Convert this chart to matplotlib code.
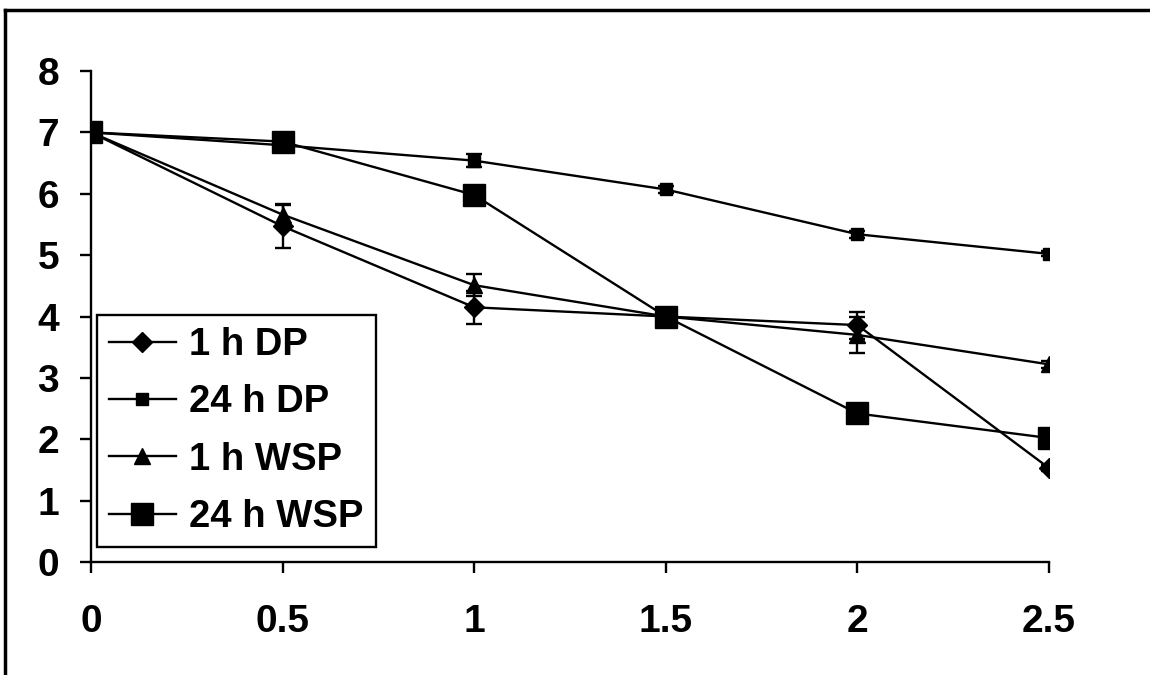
import matplotlib.pyplot as plt
from matplotlib.lines import Line2D

plt.rcParams['font.family'] = ['Liberation Sans', 'DejaVu Sans']
plt.rcParams['font.weight'] = 'bold'

# time points and log counts per treatment
time = [0, 0.5, 1, 1.5, 2, 2.5]

dp_1h = [7.0, 5.47, 4.15, 4.0, 3.86, 1.53]
dp_1h_err = [0, 0.35, 0.27, 0, 0.22, 0.05]

dp_24h = [7.0, 6.79, 6.54, 6.07, 5.34, 5.02]
dp_24h_err = [0, 0.07, 0.11, 0.05, 0.06, 0.04]

wsp_1h = [7.0, 5.66, 4.51, 4.0, 3.70, 3.22]
wsp_1h_err = [0, 0.17, 0.18, 0, 0.30, 0.06]

wsp_24h = [7.0, 6.85, 5.98, 4.0, 2.42, 2.02]

labels = ['1 h DP', '24 h DP', '1 h WSP', '24 h WSP']

fig = plt.figure(figsize=(11.5, 6.75), dpi=100)
ax = fig.add_axes([0.0791, 0.1674, 0.9122 - 0.0791, 0.8948 - 0.1674])

common = dict(color='black', lw=1.7, capsize=6, elinewidth=1.7, capthick=1.7)
ax.errorbar(time, dp_1h, yerr=dp_1h_err, marker='D', ms=10, label=labels[0], **common)
ax.errorbar(time, dp_24h, yerr=dp_24h_err, marker='s', ms=9, label=labels[1], **common)
ax.errorbar(time, wsp_1h, yerr=wsp_1h_err, marker='^', ms=11, label=labels[2], **common)
ax.plot(time, wsp_24h, color='black', lw=1.7, marker='s', ms=16, label=labels[3])

ax.set_xlim(0, 2.5)
ax.set_ylim(0, 8)
ax.set_xticks(time)
ax.set_xticklabels(['0', '0.5', '1', '1.5', '2', '2.5'])
ax.set_yticks(range(0, 9))

for side in ['top', 'right']:
    ax.spines[side].set_visible(False)
for side in ['left', 'bottom']:
    ax.spines[side].set_linewidth(1.7)
ax.tick_params(axis='both', direction='out', length=8, width=1.7, labelsize=28)
ax.tick_params(axis='x', pad=22)
ax.tick_params(axis='y', pad=15)
for lbl in ax.get_xticklabels() + ax.get_yticklabels():
    lbl.set_fontweight('bold')

# legend handles without error bar glyphs
handles = [
    Line2D([], [], color='black', lw=1.7, marker='D', ms=10),
    Line2D([], [], color='black', lw=1.7, marker='s', ms=9),
    Line2D([], [], color='black', lw=1.7, marker='^', ms=11),
    Line2D([], [], color='black', lw=1.7, marker='s', ms=16),
]
leg = ax.legend(handles, labels, loc='lower left', bbox_to_anchor=(0.006, 0.03),
                frameon=True, fancybox=False, edgecolor='black',
                handlelength=1.75, handletextpad=0.35, labelspacing=0.56,
                borderpad=0.32, borderaxespad=0,
                prop={'weight': 'bold', 'size': 27.5})
leg.get_frame().set_linewidth(1.7)
leg.get_frame().set_alpha(1)

# chart area border along top and left edges
fig.add_artist(Line2D([0.0043, 1.0], [0.985, 0.985], transform=fig.transFigure,
                      color='black', lw=2.5))
fig.add_artist(Line2D([0.0043, 0.0043], [0.0, 0.985], transform=fig.transFigure,
                      color='black', lw=2.5))

fig.savefig('out.png', dpi=100)
